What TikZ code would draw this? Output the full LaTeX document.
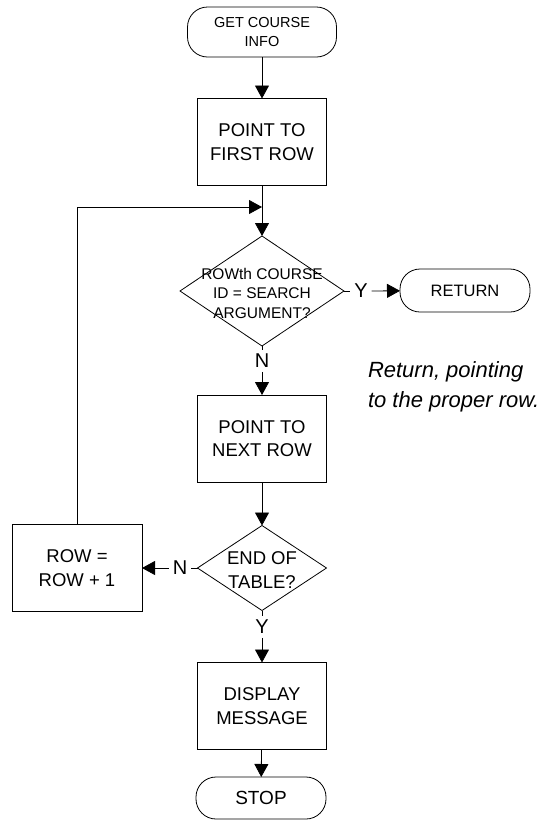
\documentclass[tikz,border=0pt]{standalone}
\usepackage{fontspec}
\setmainfont{Liberation Sans}
\usetikzlibrary{arrows.meta,shapes.geometric}

\begin{document}
\begin{tikzpicture}[x=1pt,y=-1pt,
  line width=0.8pt,
  every node/.style={inner sep=0pt, outer sep=0pt},
  term/.style={draw, rounded corners=20pt, align=center},
  proc/.style={draw, minimum width=129pt, minimum height=87pt, align=center,
    font=\fontsize{18.5}{23.5}\selectfont},
  dec/.style={draw, diamond},
  dectext/.style={align=center},
  yn/.style={font=\fontsize{20}{20}\selectfont, inner sep=4pt},
  arr/.style={-{Triangle[length=13pt,width=14pt]}}
]
\useasboundingbox (0,0) rectangle (539,820);

% main column
\node[term, minimum width=149pt, minimum height=50pt,
      font=\fontsize{14.5}{19}\selectfont] (start) at (262,32) {GET COURSE\\INFO};
\node[proc] (first) at (262,142) {POINT TO\\FIRST ROW};

\node[dec, minimum width=164pt, minimum height=110pt] (d1) at (262,291) {};
\node[dectext, font=\fontsize{15.5}{19.5}\selectfont] (d1t) at (262,293)
  {ROWth COURSE\\ID = SEARCH\\ARGUMENT?};

\node[proc] (next) at (262,438.5) {POINT TO\\NEXT ROW};

\node[dec, minimum width=129pt, minimum height=85pt] (d2) at (262,568) {};
\node[dectext, font=\fontsize{18.5}{23.5}\selectfont] (d2t) at (262,570)
  {END OF\\TABLE?};

\node[proc] (disp) at (262,706) {DISPLAY\\MESSAGE};
\node[term, minimum width=130pt, minimum height=42pt,
      font=\fontsize{19}{20}\selectfont] (stop) at (261,798) {STOP};

% side nodes
\node[term, minimum width=130pt, minimum height=43pt,
      font=\fontsize{16.5}{20}\selectfont] (ret) at (465,290.5) {RETURN};
\node[proc, minimum width=130pt] (inc) at (77,568) {ROW =\\ROW + 1};

\node[anchor=base west, align=left, font=\fontsize{22}{30}\itshape\selectfont]
  (note) at (368,407) {Return, pointing\\to the proper row.};

% branch labels
\node[yn] (y1) at (361,291) {Y};
\node[yn] (n1) at (262,361) {N};
\node[yn] (n2) at (180,568) {N};
\node[yn] (y2) at (262,627) {Y};

\coordinate (join) at (262,207);

% connectors
\draw[arr] (start) -- (first);
\draw (first) -- (join);
\draw[arr] (join) -- (d1.north);
\draw (d1.east) -- (y1);
\draw[arr] (y1) -- (ret);
\draw (d1.south) -- (n1);
\draw[arr] (n1) -- (next);
\draw[arr] (next) -- (d2.north);
\draw (d2.west) -- (n2);
\draw[arr] (n2) -- (inc);
\draw (d2.south) -- (y2);
\draw[arr] (y2) -- (disp);
\draw[arr] (disp) -- (stop);
\draw[arr] (inc.north) |- (join);
\end{tikzpicture}
\end{document}
